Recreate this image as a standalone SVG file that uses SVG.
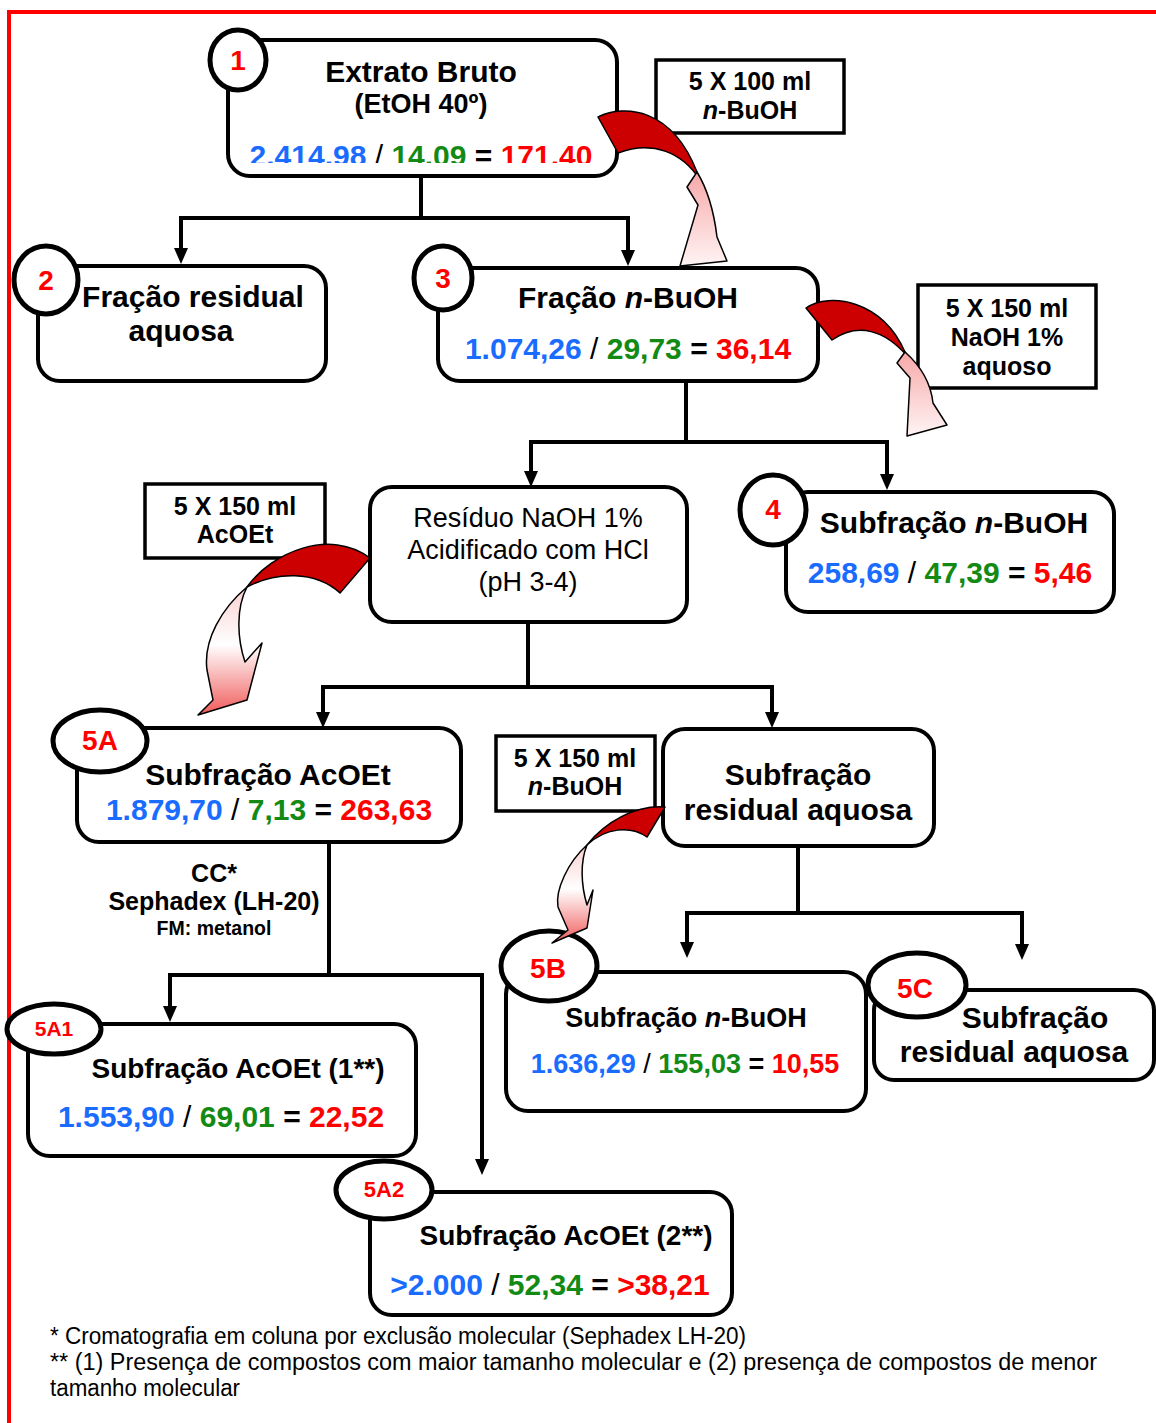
<svg xmlns="http://www.w3.org/2000/svg" width="1156" height="1423" viewBox="0 0 1156 1423">
<style>
text{font-family:"Liberation Sans",Arial,sans-serif;fill:#000}
.b{font-weight:bold}
.t{font-weight:bold;font-size:30px;text-anchor:middle}
.r27{font-size:27px;text-anchor:middle}
.bx{font-weight:bold;font-size:25px;text-anchor:middle}
.lbl{font-weight:bold;fill:#ff0000;text-anchor:middle}
.bl{fill:#1a6cff}
.gr{fill:#138a13}
.rd{fill:#ff0000}
.sl{font-weight:normal}
.it{font-style:italic}
.node{fill:#fff;stroke:#000;stroke-width:4}
.circ{fill:#fff;stroke:#000;stroke-width:5}
.box{fill:#fff;stroke:#000;stroke-width:3.5}
.con{fill:none;stroke:#000;stroke-width:4}
.red{fill:#cc0000;stroke:#000;stroke-width:1.5;stroke-linejoin:round}
.pk{stroke:#000;stroke-width:1.5;stroke-linejoin:round}
.fn{font-size:23px}
</style>
<defs>
<marker id="ah" viewBox="0 0 16 14" markerWidth="16" markerHeight="14" refX="4" refY="7" orient="auto" markerUnits="userSpaceOnUse">
<path d="M0,0 L16,7 L0,14 Z" fill="#000"/>
</marker>
<linearGradient id="pkDown" x1="0" y1="0" x2="0" y2="1">
<stop offset="0" stop-color="#f7a8a8"/>
<stop offset="1" stop-color="#fff4f4"/>
</linearGradient>
<linearGradient id="pkTip" x1="0" y1="0" x2="0" y2="1">
<stop offset="0" stop-color="#fbd0d0"/>
<stop offset="0.45" stop-color="#ffffff"/>
<stop offset="1" stop-color="#f05a5a"/>
</linearGradient>
<clipPath id="clip1"><rect x="228" y="40" width="389" height="123"/></clipPath>
</defs>

<!-- frame -->
<path d="M9,1423 V12 H1156" fill="none" stroke="#ff0000" stroke-width="4"/>

<!-- connectors -->
<g id="connectors">
<path class="con" d="M421,176 V218 M181,218 H628"/>
<path class="con" d="M181,216 V252" marker-end="url(#ah)"/>
<path class="con" d="M628,216 V254" marker-end="url(#ah)"/>
<path class="con" d="M686,381 V442 M529,442 H889"/>
<path class="con" d="M531,440 V475" marker-end="url(#ah)"/>
<path class="con" d="M887,440 V478" marker-end="url(#ah)"/>
<path class="con" d="M528,622 V687 M321,687 H774"/>
<path class="con" d="M323,685 V716" marker-end="url(#ah)"/>
<path class="con" d="M772,685 V716" marker-end="url(#ah)"/>
<path class="con" d="M798,846 V913 M685,913 H1024"/>
<path class="con" d="M687,911 V946" marker-end="url(#ah)"/>
<path class="con" d="M1022,911 V948" marker-end="url(#ah)"/>
<path class="con" d="M329,842 V975 M168,975 H484"/>
<path class="con" d="M170,973 V1010" marker-end="url(#ah)"/>
<path class="con" d="M482,973 V1163" marker-end="url(#ah)"/>
</g>

<!-- Node 1 -->
<g id="n1">
<rect class="node" x="228" y="40" width="389" height="136" rx="22"/>
<ellipse class="circ" cx="238" cy="60" rx="28" ry="30"/>
<text class="lbl" x="238" y="70" font-size="28">1</text>
<text class="t" x="421" y="82" font-size="29">Extrato Bruto</text>
<text class="t" x="421" y="113" style="font-size:27px">(EtOH 40º)</text>
<text class="t" x="421" y="166" clip-path="url(#clip1)"><tspan class="bl">2.414.98</tspan><tspan class="sl"> / </tspan><tspan class="gr">14.09</tspan> = <tspan class="rd">171.40</tspan></text>
</g>

<g id="box100">
<rect class="box" x="656" y="60" width="188" height="73"/>
<text class="bx" x="750" y="90">5 X 100 ml</text>
<text class="bx" x="750" y="119"><tspan class="it">n</tspan>-BuOH</text>
</g>

<!-- Node 2 -->
<g id="n2">
<rect class="node" x="38" y="266" width="288" height="115" rx="22"/>
<ellipse class="circ" cx="46" cy="280" rx="32" ry="34"/>
<text class="lbl" x="46" y="290" font-size="28">2</text>
<text class="t" x="193" y="307">Fração residual</text>
<text class="t" x="181" y="341">aquosa</text>
</g>

<!-- Node 3 -->
<g id="n3">
<rect class="node" x="438" y="268" width="380" height="113" rx="22"/>
<ellipse class="circ" cx="443" cy="278" rx="29" ry="32"/>
<text class="lbl" x="443" y="288" font-size="28">3</text>
<text class="t" x="628" y="308">Fração <tspan class="it">n</tspan>-BuOH</text>
<text class="t" x="628" y="359"><tspan class="bl">1.074,26</tspan><tspan class="sl"> / </tspan><tspan class="gr">29,73</tspan> = <tspan class="rd">36,14</tspan></text>
</g>

<g id="boxNaOH">
<rect class="box" x="918" y="285" width="178" height="103"/>
<text class="bx" x="1007" y="317">5 X 150 ml</text>
<text class="bx" x="1007" y="346">NaOH 1%</text>
<text class="bx" x="1007" y="375">aquoso</text>
</g>

<!-- Residue node -->
<g id="nRes">
<rect class="node" x="370" y="487" width="317" height="135" rx="22"/>
<text class="r27" x="528" y="527">Resíduo NaOH 1%</text>
<text class="r27" x="528" y="559">Acidificado com HCl</text>
<text class="r27" x="528" y="591">(pH 3-4)</text>
</g>

<g id="boxAcOEt">
<rect class="box" x="145" y="484" width="180" height="74"/>
<text class="bx" x="235" y="515">5 X 150 ml</text>
<text class="bx" x="235" y="543">AcOEt</text>
</g>

<!-- Node 4 -->
<g id="n4">
<rect class="node" x="786" y="492" width="328" height="120" rx="22"/>
<ellipse class="circ" cx="773" cy="510" rx="33" ry="35"/>
<text class="lbl" x="773" y="519" font-size="28">4</text>
<text class="t" x="954" y="533">Subfração <tspan class="it">n</tspan>-BuOH</text>
<text class="t" x="950" y="583"><tspan class="bl">258,69</tspan><tspan class="sl"> / </tspan><tspan class="gr">47,39</tspan> = <tspan class="rd">5,46</tspan></text>
</g>

<!-- Node 5A -->
<g id="n5A">
<rect class="node" x="77" y="728" width="384" height="114" rx="22"/>
<ellipse class="circ" cx="100" cy="741" rx="47" ry="31"/>
<text class="lbl" x="100" y="750" font-size="28">5A</text>
<text class="t" x="268" y="785">Subfração AcOEt</text>
<text class="t" x="269" y="820"><tspan class="bl">1.879,70</tspan><tspan class="sl"> / </tspan><tspan class="gr">7,13</tspan> = <tspan class="rd">263,63</tspan></text>
</g>

<g id="cc">
<text class="b" x="214" y="882" font-size="25" text-anchor="middle">CC*</text>
<text class="b" x="214" y="910" font-size="25" text-anchor="middle">Sephadex (LH-20)</text>
<text class="b" x="214" y="935" font-size="19.5" text-anchor="middle">FM: metanol</text>
</g>

<g id="boxBuOH2">
<rect class="box" x="496" y="736" width="159" height="75"/>
<text class="bx" x="575" y="767">5 X 150 ml</text>
<text class="bx" x="575" y="795"><tspan class="it">n</tspan>-BuOH</text>
</g>

<!-- Node residual aquosa -->
<g id="nResAq">
<rect class="node" x="663" y="729" width="271" height="117" rx="22"/>
<text class="t" x="798" y="785">Subfração</text>
<text class="t" x="798" y="820">residual aquosa</text>
</g>

<!-- Node 5B -->
<g id="n5B">
<rect class="node" x="506" y="972" width="360" height="139" rx="22"/>
<ellipse class="circ" cx="549" cy="966" rx="48" ry="35"/>
<text class="lbl" x="548" y="978" font-size="28">5B</text>
<text class="t" x="686" y="1027" style="font-size:27px">Subfração <tspan class="it">n</tspan>-BuOH</text>
<text class="t" x="685" y="1073" style="font-size:27px"><tspan class="bl">1.636,29</tspan><tspan class="sl"> / </tspan><tspan class="gr">155,03</tspan> = <tspan class="rd">10,55</tspan></text>
</g>

<!-- Node 5C -->
<g id="n5C">
<rect class="node" x="874" y="990" width="280" height="90" rx="20"/>
<ellipse class="circ" cx="917" cy="985" rx="49" ry="32"/>
<text class="lbl" x="915" y="998" font-size="28">5C</text>
<text class="t" x="1035" y="1028">Subfração</text>
<text class="t" x="1014" y="1062">residual aquosa</text>
</g>

<!-- Node 5A1 -->
<g id="n5A1">
<rect class="node" x="28" y="1024" width="388" height="132" rx="22"/>
<ellipse class="circ" cx="54" cy="1029" rx="47" ry="25"/>
<text class="lbl" x="54" y="1036" font-size="21">5A1</text>
<text class="t" x="238" y="1078" style="font-size:28px">Subfração AcOEt (1**)</text>
<text class="t" x="221" y="1127"><tspan class="bl">1.553,90</tspan><tspan class="sl"> / </tspan><tspan class="gr">69,01</tspan> = <tspan class="rd">22,52</tspan></text>
</g>

<!-- Node 5A2 -->
<g id="n5A2">
<rect class="node" x="370" y="1192" width="362" height="123" rx="22"/>
<ellipse class="circ" cx="384" cy="1190" rx="48" ry="29"/>
<text class="lbl" x="384" y="1197" font-size="22">5A2</text>
<text class="t" x="566" y="1245" style="font-size:28px">Subfração AcOEt (2**)</text>
<text class="t" x="550" y="1295"><tspan class="bl">&gt;2.000</tspan><tspan class="sl"> / </tspan><tspan class="gr">52,34</tspan> = <tspan class="rd">&gt;38,21</tspan></text>
</g>

<!-- curved extraction arrows (drawn over nodes) -->
<g id="curved-arrows">
<g id="curve1">
<path class="red" d="M598,117 C625,104 672,108 697,172 L700,180 C682,152 652,140 618,153 Z"/>
<path class="pk" d="M697,172 L687,187 L698,205 L680,266 L727,261 L717,237 C714,212 708,190 697,172 Z" fill="url(#pkDown)"/>
</g>
<g id="curve2">
<path class="red" d="M806,308 C830,292 882,300 905,352 L908,357 C885,330 858,322 832,340 Z"/>
<path class="pk" d="M905,352 L897,363 L910,378 L907,436 L947,425 L933,403 C931,385 922,367 905,352 Z" fill="url(#pkDown)"/>
</g>
<g id="curve3">
<path class="red" d="M247,587 C272,552 330,528 370,558 L340,593 C315,570 275,572 247,587 Z"/>
<path class="pk" d="M247,587 C222,608 203,640 207,670 L213,700 L198,715 L247,700 L262,643 L245,662 C237,638 236,608 247,587 Z" fill="url(#pkTip)"/>
</g>
<g id="curve4">
<path class="red" d="M587,845 C605,822 635,805 665,807 L647,837 C630,825 605,828 587,845 Z"/>
<path class="pk" d="M587,845 C568,862 555,890 558,907 L568,930 L552,943 L587,928 L593,890 L587,905 C581,885 580,862 587,845 Z" fill="url(#pkTip)"/>
</g>
</g>

<!-- footnotes -->
<g id="footnotes">
<text class="fn" x="50" y="1344" textLength="696" lengthAdjust="spacingAndGlyphs">* Cromatografia em coluna por exclusão molecular (Sephadex LH-20)</text>
<text class="fn" x="50" y="1370" textLength="1047" lengthAdjust="spacingAndGlyphs">** (1) Presença de compostos com maior tamanho molecular e (2) presença de compostos de menor</text>
<text class="fn" x="50" y="1396" textLength="190" lengthAdjust="spacingAndGlyphs">tamanho molecular</text>
</g>
</svg>
